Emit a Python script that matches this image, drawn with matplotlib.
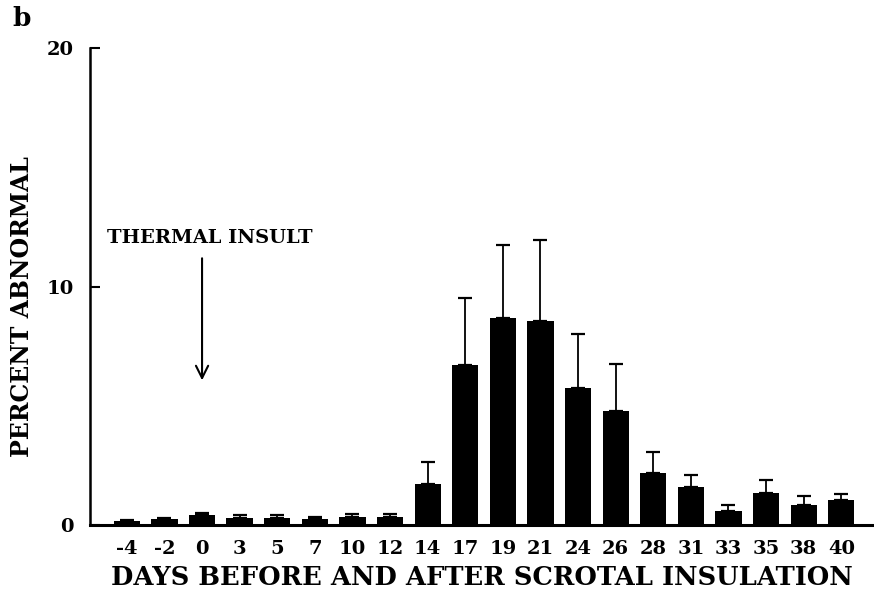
import matplotlib
matplotlib.use('Agg')
import matplotlib.pyplot as plt

# days relative to scrotal insulation
days = ['-4', '-2', '0', '3', '5', '7', '10', '12', '14', '17',
        '19', '21', '24', '26', '28', '31', '33', '35', '38', '40']
# percent abnormal (mean) and error (upper bar)
percent = [0.15, 0.25, 0.4, 0.3, 0.3, 0.25, 0.35, 0.35, 1.7, 6.7,
           8.7, 8.55, 5.75, 4.8, 2.2, 1.6, 0.6, 1.35, 0.85, 1.05]
errors = [0.05, 0.05, 0.12, 0.12, 0.1, 0.1, 0.1, 0.12, 0.95, 2.8,
          3.05, 3.4, 2.25, 1.95, 0.85, 0.5, 0.25, 0.55, 0.35, 0.25]
yticks = [0, 10, 20]

font = 'DejaVu Serif'

fig = plt.figure(figsize=(8.74, 5.92), dpi=100)
ax = fig.add_axes([90 / 874, 1 - 525 / 592, 1 - 90 / 874, (525 - 48) / 592])

pos = list(range(len(days)))
ax.bar(pos, percent, width=0.7, color='black', zorder=2)
ax.errorbar(pos, percent, yerr=[[0] * len(errors), errors], fmt='none',
            ecolor='black', elinewidth=1.3, capsize=5, capthick=1.6, zorder=1)

ax.set_xlim(-0.98, 19.87)
ax.set_ylim(0, 20)
ax.set_xticks(pos)
ax.set_xticklabels(days, fontfamily=font, fontweight='bold', fontsize=14)
ax.set_yticks(yticks)
ax.set_yticklabels([str(v) for v in yticks], fontfamily=font, fontweight='bold', fontsize=14)
ax.tick_params(axis='x', length=0, pad=11)
ax.tick_params(axis='y', direction='in', length=7, width=1.5, pad=12)

for side in ['top', 'right']:
    ax.spines[side].set_visible(False)
ax.spines['left'].set_linewidth(1.8)
ax.spines['bottom'].set_linewidth(2.2)

ax.set_xlabel('DAYS BEFORE AND AFTER SCROTAL INSULATION', fontfamily=font,
              fontweight='bold', fontsize=18.5, labelpad=5)
fig.text(22 / 874, 1 - 307 / 592, 'PERCENT ABNORMAL', rotation=90, ha='center',
         va='center', fontfamily=font, fontweight='bold', fontsize=17)

ax.text(2.2, 12.05, 'THERMAL INSULT', ha='center', va='center', fontfamily=font,
        fontweight='bold', fontsize=14)
ax.annotate('', xy=(2, 5.95), xytext=(2, 11.3),
            arrowprops=dict(arrowstyle='->', color='black', lw=1.5, mutation_scale=22))

fig.text(22 / 874, 1 - 18 / 592, 'b', ha='center', va='center', fontfamily=font,
         fontweight='bold', fontsize=19)

fig.savefig('out.png', dpi=100)
plt.close(fig)
